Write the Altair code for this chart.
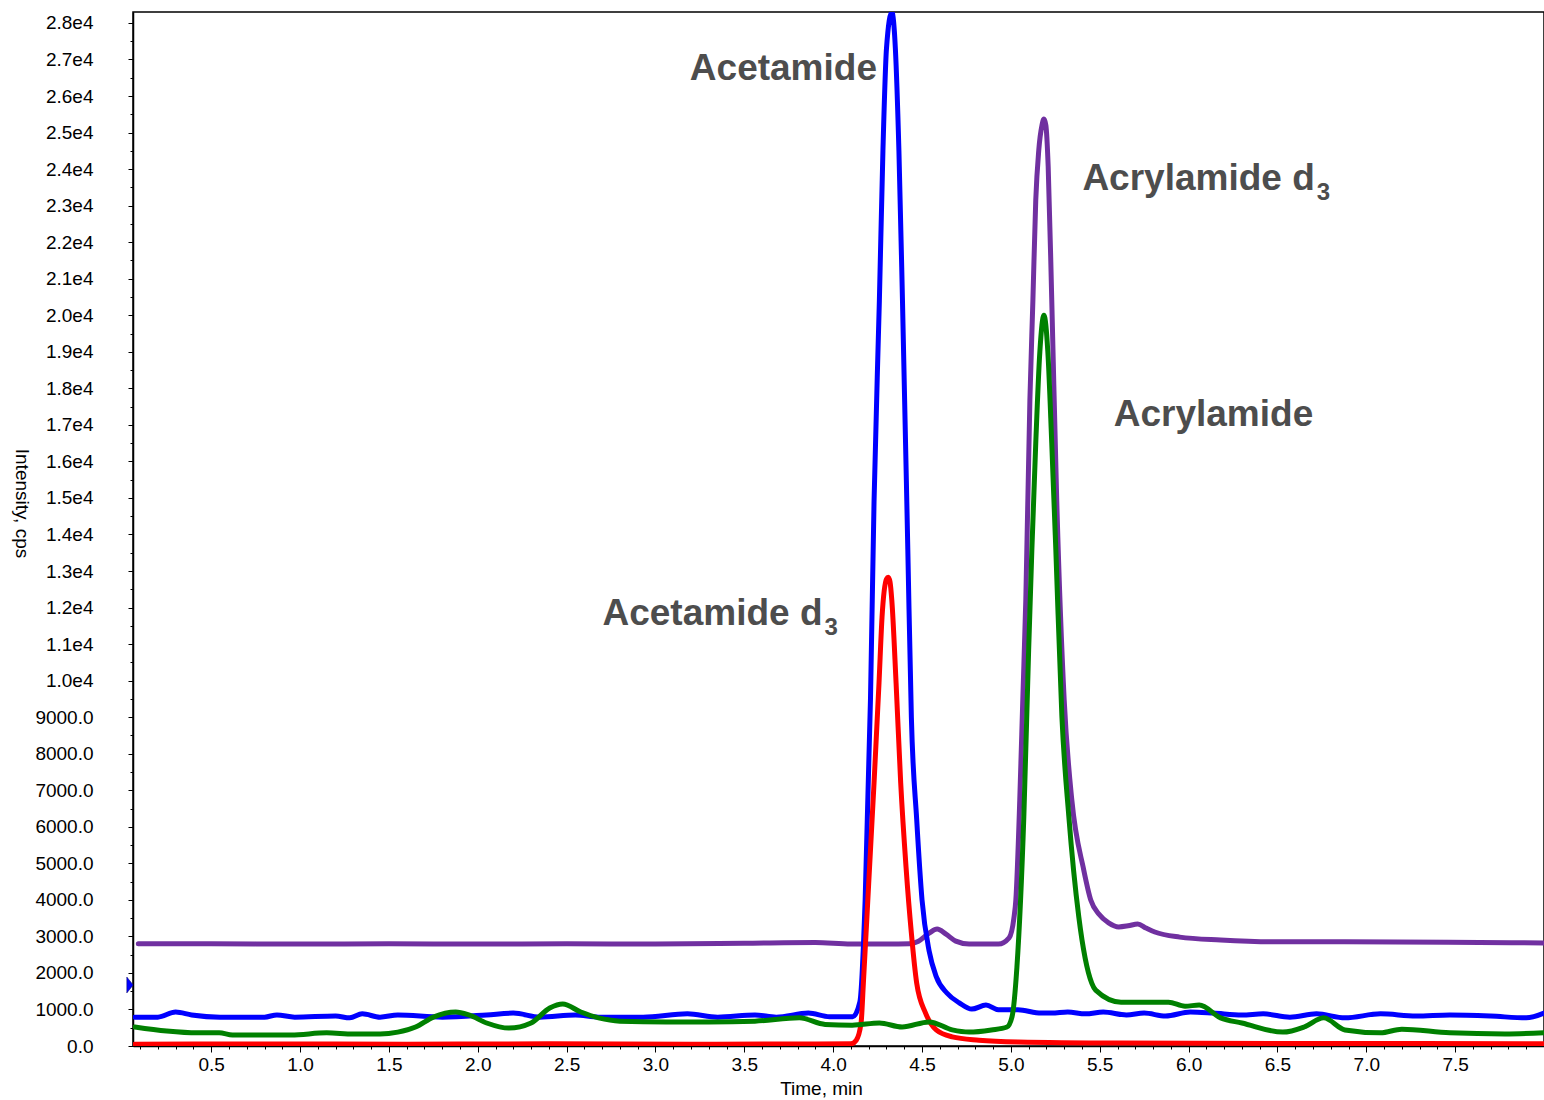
import altair as alt
import pandas as pd

# ---------------- data (time in min, intensity in cps) ----------------
acetamide_t = [0.07, 0.20, 0.30, 0.39, 0.55, 0.80, 0.87, 0.97, 1.20, 1.28, 1.35, 1.45, 1.55, 1.80, 2.05, 2.20,
               2.35, 2.55, 2.68, 2.93, 3.18, 3.35, 3.56, 3.68, 3.86, 3.98, 4.11, 4.15, 4.18, 4.21, 4.23, 4.26,
               4.28, 4.30, 4.33, 4.35, 4.37, 4.39, 4.42, 4.44, 4.47, 4.50, 4.54, 4.58, 4.64, 4.71, 4.78, 4.86,
               4.93, 5.04, 5.17, 5.23, 5.32, 5.42, 5.52, 5.65, 5.75, 5.87, 6.01, 6.14, 6.30, 6.42, 6.57, 6.72,
               6.88, 7.08, 7.28, 7.47, 7.70, 7.90, 8.00]
acetamide_v = [790, 790, 930, 850, 790, 790, 850, 790, 820, 770, 880, 790, 850, 790, 850, 900,
               790, 850, 790, 790, 880, 790, 850, 790, 900, 800, 800, 1200, 4000, 9500, 14900, 20400,
               24500, 27300, 28300, 27300, 24500, 20400, 13600, 9000, 6200, 4000, 2600, 1900, 1450, 1180, 1010, 1120,
               990, 990, 900, 900, 930, 880, 930, 850, 900, 820, 930, 900, 850, 880, 790, 880,
               770, 880, 820, 850, 820, 770, 900]

acetamide_d3_t = [0.07, 0.8, 1.6, 2.4, 3.2, 3.9, 4.10, 4.13, 4.157, 4.17, 4.20, 4.23, 4.258, 4.275, 4.30, 4.31,
                  4.32, 4.33, 4.354, 4.38, 4.41, 4.44, 4.47, 4.52, 4.58, 4.67, 4.82, 5.04, 5.61, 6.5, 7.3, 8.0]
acetamide_d3_v = [50, 55, 50, 60, 50, 55, 60, 160, 630, 1720, 4460, 7200, 9940, 11740, 12780, 12830,
                  12700, 12200, 9940, 7200, 4900, 3090, 1720, 900, 440, 250, 160, 110, 80, 70, 70, 60]

acrylamide_d3_t = [0.09, 0.5, 1.0, 1.5, 2.0, 2.5, 3.0, 3.5, 3.9, 4.1, 4.3, 4.43, 4.48, 4.54, 4.585, 4.635,
                   4.69, 4.765, 4.93, 4.99, 5.017, 5.028, 5.05, 5.067, 5.084, 5.107, 5.124, 5.14, 5.157, 5.175,
                   5.186, 5.197, 5.21, 5.23, 5.258, 5.30, 5.343, 5.41, 5.45, 5.495, 5.55, 5.607, 5.66, 5.714,
                   5.76, 5.81, 5.95, 6.18, 6.495, 6.88, 7.46, 8.0]
acrylamide_d3_v = [2800, 2800, 2790, 2800, 2790, 2800, 2790, 2810, 2830, 2790, 2790, 2800, 2870, 3090, 3200, 3060,
                   2870, 2790, 2790, 2960, 3500, 4000, 6730, 9470, 12210, 17680, 20420, 23150, 24520, 25200,
                   25370, 25200, 24060, 20420, 14940, 9470, 6730, 4820, 3990, 3610, 3370, 3260, 3290, 3340,
                   3230, 3120, 2980, 2900, 2850, 2850, 2840, 2820]

acrylamide_t = [0.07, 0.25, 0.42, 0.545, 0.62, 0.80, 0.95, 1.15, 1.30, 1.45, 1.55, 1.65, 1.75, 1.876, 1.95, 2.05,
                2.175, 2.30, 2.405, 2.478, 2.58, 2.68, 2.80, 3.06, 3.30, 3.56, 3.81, 3.955, 4.107, 4.26, 4.388,
                4.54, 4.67, 4.765, 4.89, 4.978, 5.006, 5.034, 5.073, 5.10, 5.118, 5.14, 5.163, 5.186, 5.208, 5.23,
                5.253, 5.287, 5.326, 5.382, 5.455, 5.477, 5.62, 5.887, 5.98, 6.06, 6.18, 6.30, 6.53, 6.65, 6.76,
                6.88, 7.08, 7.20, 7.47, 7.78, 8.0]
acrylamide_v = [520, 410, 360, 360, 300, 300, 300, 360, 330, 330, 380, 520, 790, 930, 850, 630,
                490, 630, 1040, 1150, 930, 770, 680, 660, 660, 680, 770, 590, 570, 630, 520,
                660, 440, 380, 440, 520, 790, 2160, 6290, 10840, 13570, 16500, 19000, 20000, 19000, 16500,
                13570, 9020, 6290, 3540, 1720, 1530, 1200, 1200, 1090, 1120, 770, 630, 380, 520, 770,
                440, 360, 460, 360, 330, 360]

series_names = ["Acrylamide d3", "Acetamide", "Acetamide d3", "Acrylamide"]
series_colors = ["#7030a0", "#0000ff", "#ff0000", "#008000"]

x_major = [0.5, 1.0, 1.5, 2.0, 2.5, 3.0, 3.5, 4.0, 4.5, 5.0, 5.5, 6.0, 6.5, 7.0, 7.5]
x_minor = [round(0.1 * i, 1) for i in range(1, 80) if i % 5 != 0]
y_major = list(range(0, 28001, 1000))
y_minor = list(range(500, 28000, 1000))

# annotations (time, intensity of text anchor)
ann_center_label = ["Acetamide", "Acrylamide"]
ann_center_t = [3.72, 6.14]
ann_center_v = [26440, 16970]
ann_right_label = ["Acetamide d", "Acrylamide d"]
ann_right_t = [3.94, 6.71]
ann_right_v = [11520, 23430]
ann_sub_label = ["3", "3"]

marker_t = [0.06]
marker_v = [1670]

# ---------------- tables ----------------
rows = []
for name, ts, vs in [("Acrylamide d3", acrylamide_d3_t, acrylamide_d3_v),
                     ("Acetamide", acetamide_t, acetamide_v),
                     ("Acetamide d3", acetamide_d3_t, acetamide_d3_v),
                     ("Acrylamide", acrylamide_t, acrylamide_v)]:
    for t, v in zip(ts, vs, strict=True):
        rows.append({"series": name, "time": t, "intensity": v})
df = pd.DataFrame(rows)

center_df = pd.DataFrame({"label": ann_center_label, "time": ann_center_t, "intensity": ann_center_v})
right_df = pd.DataFrame({"label": ann_right_label, "time": ann_right_t, "intensity": ann_right_v})
sub_df = pd.DataFrame({"label": ann_sub_label, "time": ann_right_t, "intensity": ann_right_v})
marker_df = pd.DataFrame({"time": marker_t, "intensity": marker_v})

x_scale = alt.Scale(domain=[0.06, 8.0], nice=False, zero=False)
y_scale = alt.Scale(domain=[0, 28300], nice=False, zero=False)

FONT = "Liberation Sans"

lines = alt.Chart(df).mark_line(
    strokeWidth=5, interpolate="monotone", clip=True, strokeJoin="round", strokeCap="round"
).encode(
    x=alt.X("time:Q", scale=x_scale, axis=alt.Axis(
        orient="bottom", values=x_major, format=".1f", title="Time, min",
        tickSize=6, tickWidth=1, labelFontSize=19, labelPadding=3, labelFlush=False, labelOverlap=False,
        domainWidth=1.5, titleFontSize=19, titleX=688, titleY=42, titleBaseline="middle", grid=False)),
    y=alt.Y("intensity:Q", scale=y_scale, axis=alt.Axis(
        orient="left", values=y_major,
        labelExpr="datum.value >= 10000 ? replace(format(datum.value, '.1e'), '+', '') : format(datum.value, '.1f')",
        title="Intensity, cps", tickSize=5, tickWidth=1, labelPadding=35, labelFontSize=19,
        labelFlush=False, labelOverlap=False, domainWidth=1.5,
        titleFontSize=19, titleAngle=90, titleX=-112, titleY=491, titleAlign="center",
        titleBaseline="middle", grid=False)),
    color=alt.Color("series:N", scale=alt.Scale(domain=series_names, range=series_colors), legend=None),
    detail="series:N",
)

minor = alt.Chart(df).mark_point(opacity=0).encode(
    x=alt.X("time:Q", scale=x_scale, axis=alt.Axis(
        orient="bottom", values=x_minor, labels=False, title="", domain=False, tickSize=3, grid=False)),
    y=alt.Y("intensity:Q", scale=y_scale, axis=alt.Axis(
        orient="left", values=y_minor, labels=False, title="", domain=False, tickSize=3, grid=False)),
)

text_style = dict(font=FONT, fontWeight="bold", color="#4d4d4d", baseline="alphabetic")

t_center = alt.Chart(center_df).mark_text(fontSize=37, align="center", **text_style).encode(
    x=alt.X("time:Q", scale=x_scale, axis=None),
    y=alt.Y("intensity:Q", scale=y_scale, axis=None),
    text="label:N",
)
t_right = alt.Chart(right_df).mark_text(fontSize=37, align="right", **text_style).encode(
    x=alt.X("time:Q", scale=x_scale, axis=None),
    y=alt.Y("intensity:Q", scale=y_scale, axis=None),
    text="label:N",
)
t_sub = alt.Chart(sub_df).mark_text(fontSize=24, align="left", dx=2, dy=10, **text_style).encode(
    x=alt.X("time:Q", scale=x_scale, axis=None),
    y=alt.Y("intensity:Q", scale=y_scale, axis=None),
    text="label:N",
)

marker = alt.Chart(marker_df).mark_point(
    shape="M-0.4,-1L0.4,0L-0.4,1Z", size=256, filled=True, fill="#0000ff", stroke="#000060",
    strokeWidth=0.5, opacity=1, xOffset=-3, clip=False
).encode(
    x=alt.X("time:Q", scale=x_scale, axis=None),
    y=alt.Y("intensity:Q", scale=y_scale, axis=None),
)

chart = alt.layer(lines, minor, t_center, t_right, t_sub, marker).resolve_axis(
    x="independent", y="independent"
).properties(
    width=1411, height=1034,
    autosize=alt.AutoSizeParams(type="none"),
    padding={"left": 133, "top": 12, "right": 0, "bottom": 54},
    background="white",
).configure_view(
    stroke="black", strokeWidth=1.5
).configure_axis(
    domainColor="black", tickColor="black", labelColor="black", titleColor="black",
    labelFont=FONT, titleFont=FONT, titleFontWeight="normal",
)

chart.save("out.html", embed_options={"renderer": "svg", "actions": False})
